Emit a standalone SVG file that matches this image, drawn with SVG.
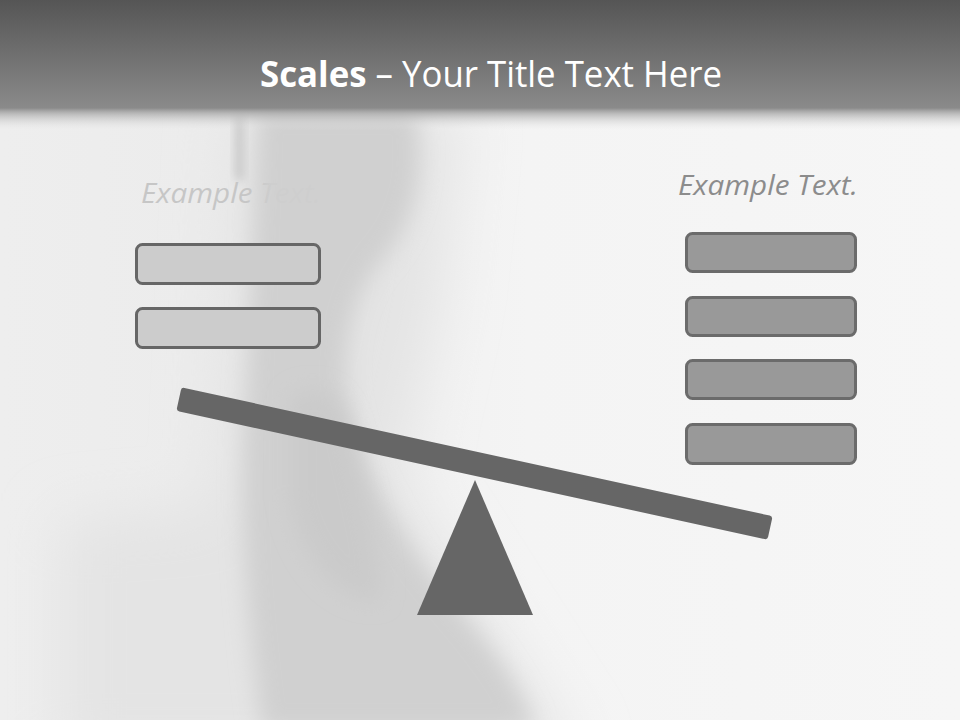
<svg xmlns="http://www.w3.org/2000/svg" width="960" height="720" viewBox="0 0 960 720">
  <defs>
    <linearGradient id="hdr" x1="0" y1="0" x2="0" y2="1">
      <stop offset="0" stop-color="#555555"/>
      <stop offset="0.83" stop-color="#8a8a8a"/>
      <stop offset="0.87" stop-color="#a8a8a8" stop-opacity="0.8"/>
      <stop offset="1" stop-color="#e6e6e6" stop-opacity="0"/>
    </linearGradient>
    <linearGradient id="bgh" x1="0" y1="0" x2="1" y2="0">
      <stop offset="0" stop-color="#eeeeee"/>
      <stop offset="0.2" stop-color="#ececec"/>
      <stop offset="0.55" stop-color="#f4f4f4"/>
      <stop offset="1" stop-color="#f6f6f6"/>
    </linearGradient>
    <linearGradient id="fadeTxt" gradientUnits="userSpaceOnUse" x1="250" y1="0" x2="272" y2="0">
      <stop offset="0" stop-color="#c6c6c6"/>
      <stop offset="1" stop-color="#cecece"/>
    </linearGradient>
    <filter id="blur" x="-50%" y="-50%" width="200%" height="200%">
      <feGaussianBlur stdDeviation="28"/>
    </filter>
    <filter id="blurM" x="-50%" y="-50%" width="200%" height="200%">
      <feGaussianBlur stdDeviation="11"/>
    </filter>
    <filter id="blurS" x="-50%" y="-50%" width="200%" height="200%">
      <feGaussianBlur stdDeviation="5"/>
    </filter>
    <style>
      .title { font-family: "Open Sans", "Liberation Sans", sans-serif; font-size: 36px; fill: #ffffff; }
      .lbl { font-family: "Open Sans", "Liberation Sans", sans-serif; font-size: 27px; font-style: italic; }
      .boxL { fill: #cccccc; stroke: #666666; stroke-width: 3; }
      .boxR { fill: #999999; stroke: #6b6b6b; stroke-width: 3; }
      .dark { fill: #666666; }
    </style>
  </defs>

  <!-- background -->
  <g id="background">
    <rect x="0" y="0" width="960" height="720" fill="url(#bgh)"/>
    <g filter="url(#blur)" fill="#e4e4e4">
      <path d="M60,520 L320,500 L340,760 L60,760 Z"/>
      <path d="M230,110 L460,110 L440,300 L400,480 L580,760 L200,760 Z"/>
    </g>
    <g filter="url(#blurM)" fill="#d0d0d0">
      <path d="M258,108 L415,108 C428,180 410,230 380,262 C356,292 345,330 346,380 C350,440 382,500 420,560 C460,615 515,665 535,730 L262,730 C245,600 238,500 246,400 C252,300 254,200 258,108 Z"/>
    </g>
    <g filter="url(#blurM)" fill="#cacaca">
      <path d="M290,400 C310,380 340,390 350,430 C360,480 380,540 380,600 C340,600 300,560 290,500 Z"/>
    </g>
    <g filter="url(#blurS)" fill="#c8c8c8">
      <rect x="235" y="115" width="9" height="65"/>
    </g>
  </g>

  <!-- header -->
  <g id="header">
    <rect x="0" y="0" width="960" height="130" fill="url(#hdr)"/>
    <text class="title" x="260" y="87" textLength="462" lengthAdjust="spacingAndGlyphs"><tspan font-weight="bold">Scales</tspan> – Your Title Text Here</text>
  </g>

  <!-- left pan -->
  <g id="left-label">
    <text class="lbl" x="141" y="203" fill="url(#fadeTxt)" textLength="180" lengthAdjust="spacingAndGlyphs">Example Text.</text>
  </g>
  <g id="left-box-1"><rect class="boxL" x="136.5" y="244.5" width="183" height="39" rx="6"/></g>
  <g id="left-box-2"><rect class="boxL" x="136.5" y="308.5" width="183" height="39" rx="6"/></g>

  <!-- right pan -->
  <g id="right-label">
    <text class="lbl" x="678" y="195" fill="#8c8c8c" textLength="180" lengthAdjust="spacingAndGlyphs">Example Text.</text>
  </g>
  <g id="right-box-1"><rect class="boxR" x="686.5" y="233.5" width="169" height="38" rx="6"/></g>
  <g id="right-box-2"><rect class="boxR" x="686.5" y="297.5" width="169" height="38" rx="6"/></g>
  <g id="right-box-3"><rect class="boxR" x="686.5" y="360.5" width="169" height="38" rx="6"/></g>
  <g id="right-box-4"><rect class="boxR" x="686.5" y="424.5" width="169" height="39" rx="6"/></g>

  <!-- scale -->
  <g id="beam">
    <rect class="dark" x="-302.5" y="-12" width="605" height="24" rx="3" transform="translate(474.5 463.5) rotate(12.3)"/>
  </g>
  <g id="fulcrum">
    <polygon class="dark" points="475,480 533,615 417,615"/>
  </g>
  <g id="connectors"></g>
</svg>
